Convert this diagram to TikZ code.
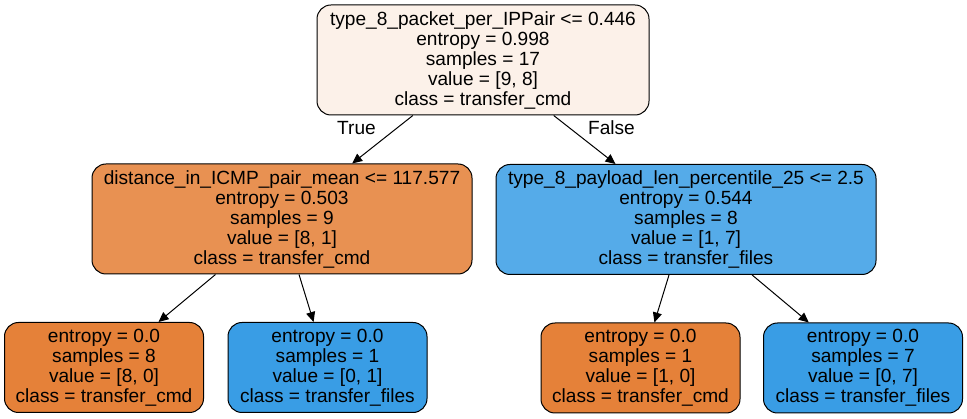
\documentclass[tikz,border=0pt]{standalone}
\usepackage{fontspec}
\setmainfont{Liberation Sans}
\usetikzlibrary{arrows.meta, positioning}
\definecolor{cmd}{HTML}{e58139}
\definecolor{files}{HTML}{399de5}
\definecolor{rootc}{HTML}{fcf1e9}
\definecolor{cmdl}{HTML}{e89152}
\definecolor{filesl}{HTML}{55abe9}

\begin{document}
\begin{tikzpicture}[x=1pt, y=-1pt,
                split/.style={rectangle, rounded corners=14pt, draw, line width=1pt,
                    align=center, minimum height=110pt, inner sep=0pt},
                leaf/.style={split, minimum height=90pt, minimum width=199pt},
                tf/.style={anchor=base},
                every node/.style={font=\fontsize{19.1}{20}\selectfont}]
            \useasboundingbox (0,0) rectangle (967,419);
            \node[split, fill=rootc, minimum width=332pt](0) at (483,60)
                {type\_8\_packet\_per\_IPPair <= 0.446\\ entropy = 0.998\\ samples = 17\\ value = [9, 8]\\ class = transfer\_cmd};
            \node[split, fill=cmdl, minimum width=380pt](1) at (282,219)
                {distance\_in\_ICMP\_pair\_mean <= 117.577\\ entropy = 0.503\\ samples = 9\\ value = [8, 1]\\ class = transfer\_cmd};
            \node[split, fill=filesl, minimum width=380pt](2) at (686,219.5)
                {type\_8\_payload\_len\_percentile\_25 <= 2.5\\ entropy = 0.544\\ samples = 8\\ value = [1, 7]\\ class = transfer\_files};
            \node[leaf, fill=cmd](1-1) at (104,367.5)
                {entropy = 0.0\\ samples = 8\\ value = [8, 0]\\ class = transfer\_cmd};
            \node[leaf, fill=files](1-2) at (327.5,367.5)
                {entropy = 0.0\\ samples = 1\\ value = [0, 1]\\ class = transfer\_files};
            \node[leaf, fill=cmd](2-1) at (640.5,368)
                {entropy = 0.0\\ samples = 1\\ value = [1, 0]\\ class = transfer\_cmd};
            \node[leaf, fill=files](2-2) at (863,368)
                {entropy = 0.0\\ samples = 7\\ value = [0, 7]\\ class = transfer\_files};
            \foreach \a/\b in {0/1, 0/2, 1/1-1, 1/1-2, 2/2-1, 2/2-2}
                \draw[-{Triangle[length=10pt, width=9pt]}, line width=1pt](\a)--(\b);
            \node[tf](true) at (356.5,135) {True};
            \node[tf](false) at (611.5,135) {False};
        \end{tikzpicture}
\end{document}
